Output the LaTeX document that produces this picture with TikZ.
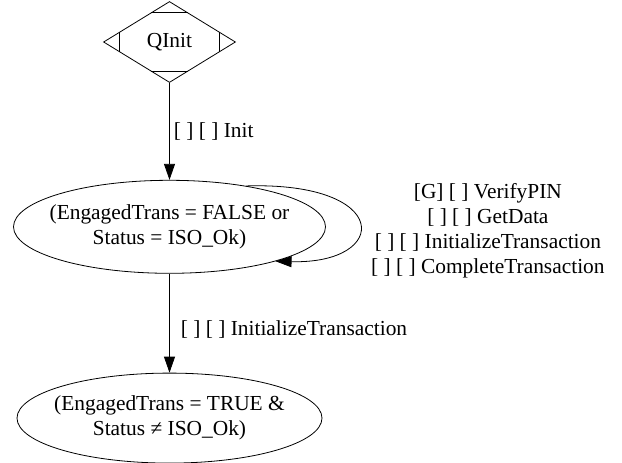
\documentclass[tikz,border=0pt]{standalone}
\usepackage{fontspec}
\setmainfont{Liberation Serif}
\usetikzlibrary{
  arrows.meta,
  positioning,
  calc,
  shapes.geometric
}
\newcommand{\gvfont}{\fontsize{21.4}{25}\selectfont}
\tikzset{
  initnode/.style={draw,diamond,aspect=1.63,minimum width=132pt,minimum height=81pt,inner sep=0pt,line width=0.8pt,font=\gvfont},
  statenode/.style={draw,ellipse,inner xsep=-30pt,inner ysep=0pt,line width=0.8pt,align=center,font=\gvfont},
  transarrow/.style={-{Triangle[length=16pt,width=11pt]},line width=0.8pt},
  guardlabel/.style={font=\gvfont,align=center}
}

\begin{document}
\begin{tikzpicture}[x=1pt,y=-1pt]
\useasboundingbox (0,0) rectangle (622,463);
\node[initnode] (q) at (169.5,42) {QInit};
\node[statenode, minimum width=312pt, minimum height=93pt, below=97pt of q] (e1) {(EngagedTrans = FALSE or\\Status = ISO\_Ok)};
\node[statenode, minimum width=305pt, minimum height=90pt, below=99pt of e1] (e2) {(EngagedTrans = TRUE \&\\Status ≠ ISO\_Ok)};

% Mdiamond corner cuts
\foreach \a/\b/\c/\f in {north/west/east/0.28, south/west/east/0.28, west/north/south/0.25, east/north/south/0.25}
  \draw[line width=0.8pt] ($(q.\a)!\f!(q.\b)$) -- ($(q.\a)!\f!(q.\c)$);

\draw[transarrow] (q) -- node[guardlabel,right,inner xsep=4pt]{[ ] [ ] Init} (e1);
\draw[transarrow] (e1) -- node[guardlabel,right,inner xsep=11pt,yshift=-6.6pt]{[ ] [ ] InitializeTransaction} (e2);
\draw[transarrow] (e1.28) .. controls +(146,-4.5) and +(115,3) .. (e1.-18)
  node[guardlabel,right,pos=0.5,inner xsep=12pt,yshift=-8pt]{[G] [ ] VerifyPIN\\{}[ ] [ ] GetData\\{}[ ] [ ] InitializeTransaction\\{}[ ] [ ] CompleteTransaction};
\end{tikzpicture}
\end{document}
